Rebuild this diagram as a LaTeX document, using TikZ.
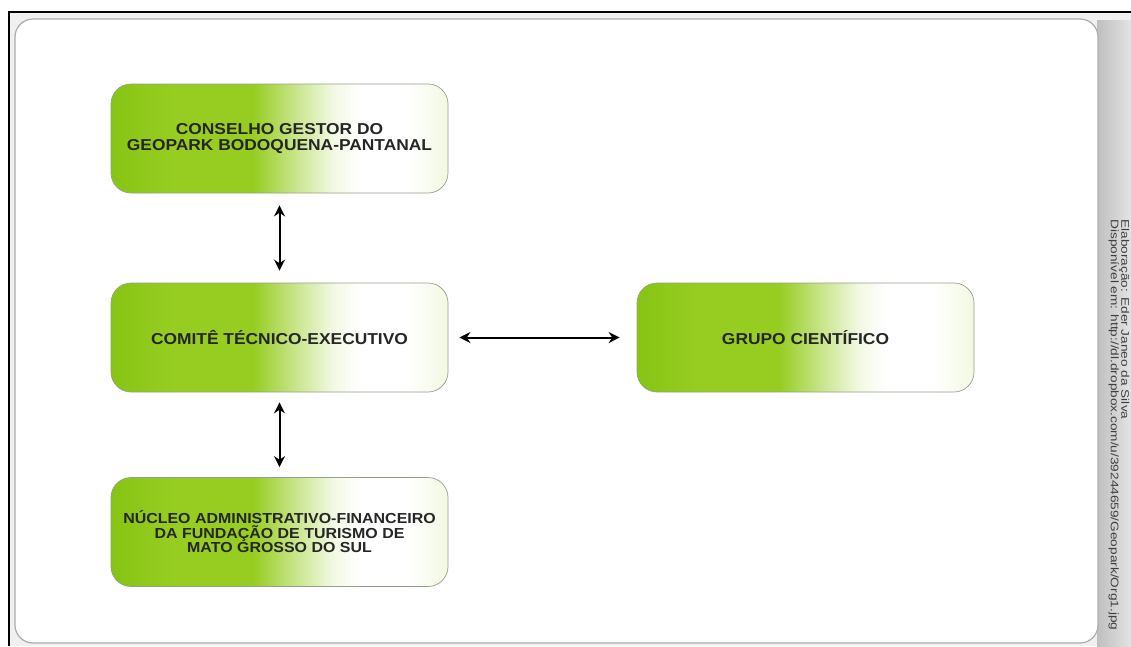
\documentclass[tikz,border=0pt]{standalone}
\usepackage{fontspec}
\setmainfont{Liberation Sans}
\newfontfamily\boxfont[FakeStretch=1.10]{Liberation Sans}
\usetikzlibrary{arrows.meta}
\definecolor{boxgreen}{RGB}{150,205,32}
\definecolor{boxdark}{RGB}{135,196,20}
\definecolor{boxlight}{RGB}{242,248,226}
\definecolor{boxedge}{RGB}{150,160,140}
\pgfdeclarehorizontalshading{boxshade}{100bp}{color(0bp)=(boxdark); color(25bp)=(boxdark); color(34bp)=(boxgreen); color(46bp)=(boxgreen); color(52bp)=(white!45!boxgreen); color(58bp)=(white!88!boxgreen); color(62bp)=(white); color(69bp)=(white); color(75bp)=(boxlight); color(100bp)=(boxlight)}
\tikzset{
  orgbox/.style={draw=boxedge, line width=0.7pt, rounded corners=20pt, shading=boxshade,
    minimum width=337pt, minimum height=109pt, inner sep=0pt, align=center,
    font=\boxfont\fontsize{15.8}{15.5}\selectfont\bfseries, text=black!85},
  smalltext/.style={font=\boxfont\fontsize{14.5}{14.5}\selectfont\bfseries},
  link/.style={line width=2pt, {Stealth[length=11pt,width=11pt]}-{Stealth[length=11pt,width=11pt]}},
  credit/.style={font=\fontsize{11}{10.5}\selectfont, text=black!75, align=left}
}
\begin{document}
\begin{tikzpicture}[x=1pt,y=-1pt]
\useasboundingbox (0,0) rectangle (1131,646);
\fill[white] (0,0) rectangle (1131,646);
\fill[gray!12] (9,12) rectangle (1131,646);
\shade[left color=gray!50, right color=gray!22] (1097,20) rectangle (1131,646);
\draw[gray!65, line width=1.2pt, fill=white, rounded corners=18pt] (15,19) rectangle (1098,643);
\draw[line width=2.4pt] (9,646) -- (9,12) -- (1131,12);

\node[orgbox] (cons) at (279.5,138.5) {CONSELHO GESTOR DO\\GEOPARK BODOQUENA-PANTANAL};
\node[orgbox] (comite) at (279.5,337.5) {COMITÊ TÉCNICO-EXECUTIVO};
\node[orgbox, smalltext] (nucleo) at (279.5,532) {NÚCLEO ADMINISTRATIVO-FINANCEIRO\\DA FUNDAÇÃO DE TURISMO DE\\MATO GROSSO DO SUL};
\node[orgbox] (grupo) at (805.5,337.5) {GRUPO CIENTÍFICO};

\draw[link, shorten <=12pt, shorten >=12pt] (cons) -- (comite);
\draw[link, shorten <=10pt, shorten >=10pt] (comite) -- (nucleo);
\draw[link, shorten <=11pt, shorten >=17pt] (comite) -- (grupo);

\node[credit, rotate=-90, anchor=west] (src) at (1119,216) {\scalebox{1.24}[1]{Elaboração: Eder Janeo da Silva}\\\scalebox{1.24}[1]{Disponível em: http://dl.dropbox.com/u/39244659/Geopark/Org1.jpg}};
\end{tikzpicture}
\end{document}
